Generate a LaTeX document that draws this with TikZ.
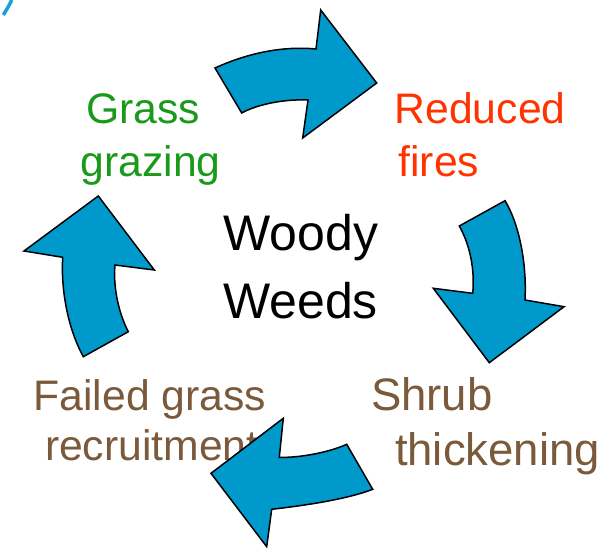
\documentclass[tikz,border=0pt]{standalone}
\usepackage{fontspec}
\setmainfont{Liberation Sans}
\definecolor{arrowblue}{HTML}{0099CC}
\definecolor{grassgreen}{HTML}{1A9A1A}
\definecolor{firered}{HTML}{FF3300}
\definecolor{shrubbrown}{HTML}{7A5A3A}
\definecolor{fragblue}{HTML}{1A9FD9}
\tikzset{
  cyclearrow/.style={fill=arrowblue, draw=black, line width=1.5pt, line join=miter},
  lbl/.style={inner sep=0pt, outer sep=0pt, anchor=base west, font=\fontsize{42.7}{50}\selectfont},
}
\begin{document}
\begin{tikzpicture}[x=1pt, y=-1pt]
\useasboundingbox (0,0) rectangle (602,548);
% labels
\node[lbl, text=grassgreen] (grass1) at (86,124) {Grass};
\node[lbl, text=grassgreen] (grass2) at (80.6,177) {grazing};
\node[lbl, text=firered] (fire1) at (394.6,124) {Reduced};
\node[lbl, text=firered] (fire2) at (398.5,177) {fires};
\node[lbl, anchor=base, font=\fontsize{50}{58}\selectfont] (woody1) at (301,250) {Woody};
\node[lbl, anchor=base, font=\fontsize{50}{58}\selectfont] (woody2) at (300.5,318) {Weeds};
\node[lbl, text=shrubbrown, font=\fontsize{45.5}{52}\selectfont] (shrub1) at (371,410) {Shrub};
\node[lbl, text=shrubbrown, font=\fontsize{45.5}{52}\selectfont] (shrub2) at (395,465) {thickening};
\node[lbl, text=shrubbrown] (fail1) at (33.6,410) {Failed grass};
\node[lbl, text=shrubbrown] (fail2) at (45,460) {recruitment};
% top arrow
\draw[cyclearrow] (215,68) .. controls (250,52) and (285,46) .. (316,49)
  -- (320.7,10) -- (376.7,83) -- (302.7,138) -- (308,100)
  .. controls (285,99) and (258,104) .. (241.7,113) -- cycle;
% right arrow
\draw[cyclearrow] (459.3,226) -- (505,200.7)
  .. controls (518,222) and (527,260) .. (525,300)
  -- (564,306.7) -- (489.3,362.7) -- (433.3,288.3) -- (472.7,293.3)
  .. controls (475,270) and (470,245) .. cycle;
% bottom arrow
\draw[cyclearrow] (346.7,444.3) -- (372.7,489.3)
  .. controls (345,500) and (300,506) .. (271.7,509.3)
  -- (266.7,546.7) -- (211,473.3) -- (283.3,418.3) -- (279.3,457.3)
  .. controls (300,458) and (330,452) .. cycle;
% left arrow
\draw[cyclearrow] (83.3,356.7) -- (128.3,331.7)
  .. controls (118,312) and (113,285) .. (115,265)
  -- (154.3,270) -- (98.3,196) -- (24,251) -- (62.7,257.3)
  .. controls (61,285) and (66,325) .. cycle;
% fragment at the top left corner
\draw[fragblue, line width=3.5pt] (3.3,15) .. controls (7,9) and (10,4) .. (11.7,0);
\end{tikzpicture}
\end{document}
